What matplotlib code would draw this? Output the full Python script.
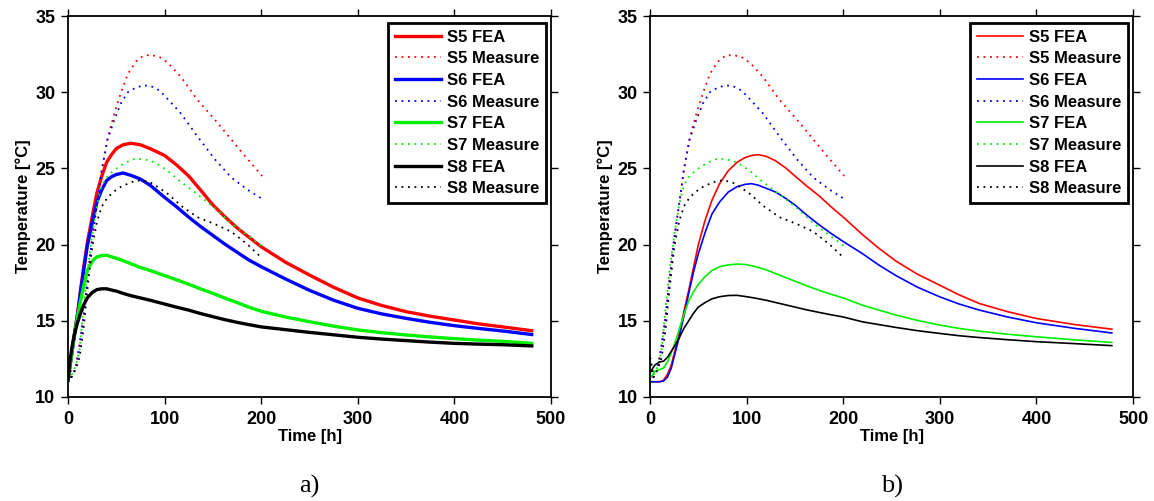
import matplotlib
matplotlib.use('Agg')
import matplotlib.pyplot as plt

# measured data (same sensors for both panels)
t_meas = [0, 3.5, 8, 12, 16, 20, 25, 30, 35, 41, 48, 55, 62, 70, 78, 86, 95, 104, 117, 134, 152, 169, 186, 201]
s5_meas = [12.6, 11.3, 11.9, 13.4, 15.2, 17.6, 20.4, 22.6, 24.9, 27.0, 28.6, 30.0, 31.2, 32.0, 32.4, 32.45,
           32.3, 31.9, 31.0, 29.5, 28.2, 26.9, 25.6, 24.5]
s6_meas = [12.6, 11.3, 11.9, 13.4, 15.2, 17.6, 20.4, 22.6, 24.9, 26.9, 28.2, 29.3, 30.0, 30.3, 30.45, 30.4,
           30.1, 29.5, 28.6, 27.1, 25.6, 24.4, 23.6, 23.0]
s7_meas = [12.6, 11.4, 12.0, 13.1, 15.8, 18.2, 20.6, 22.6, 23.9, 24.5, 24.9, 25.2, 25.45, 25.65, 25.6, 25.5,
           25.2, 24.8, 24.1, 23.3, 22.4, 21.4, 20.6, 19.9]
s8_meas = [12.6, 11.3, 11.8, 12.6, 14.4, 17.0, 19.8, 21.5, 22.5, 23.1, 23.5, 23.8, 24.0, 24.2, 24.2, 24.05,
           23.7, 23.3, 22.55, 21.8, 21.35, 20.85, 20.0, 19.1]

# FEA, panel a)
t_a = [0, 2, 4, 6, 8, 10, 13, 16, 20, 25, 30, 35, 40, 45, 50, 57, 65, 75, 85, 100, 112, 125, 137, 150,
       162, 175, 187, 200, 225, 250, 275, 300, 325, 350, 375, 400, 425, 450, 480]
s5_fea_a = [11.1, 12.0, 12.9, 13.8, 14.7, 15.5, 17.0, 18.4, 20.1, 21.8, 23.4, 24.5, 25.4, 25.9, 26.3, 26.55,
            26.65, 26.55, 26.3, 25.85, 25.25, 24.5, 23.6, 22.6, 21.85, 21.1, 20.5, 19.86, 18.85, 18.0, 17.2,
            16.5, 16.0, 15.6, 15.3, 15.05, 14.8, 14.6, 14.35]
s6_fea_a = [11.1, 12.0, 12.9, 13.8, 14.6, 15.4, 16.9, 18.2, 19.9, 21.4, 22.8, 23.6, 24.2, 24.45, 24.6, 24.7,
            24.55, 24.3, 23.9, 23.1, 22.5, 21.8, 21.2, 20.6, 20.05, 19.5, 19.0, 18.55, 17.75, 17.0, 16.35,
            15.82, 15.45, 15.16, 14.9, 14.68, 14.5, 14.33, 14.1]
s7_fea_a = [11.1, 12.0, 12.9, 13.8, 14.6, 15.3, 16.3, 17.2, 18.3, 18.9, 19.2, 19.28, 19.3, 19.2, 19.1, 18.95,
            18.75, 18.5, 18.3, 17.97, 17.7, 17.4, 17.1, 16.8, 16.5, 16.2, 15.9, 15.63, 15.25, 14.94, 14.65,
            14.4, 14.22, 14.07, 13.94, 13.83, 13.73, 13.65, 13.52]
s8_fea_a = [11.1, 12.3, 13.2, 13.9, 14.45, 14.9, 15.5, 16.0, 16.5, 16.85, 17.05, 17.1, 17.1, 17.02, 16.95,
            16.8, 16.65, 16.5, 16.35, 16.1, 15.9, 15.7, 15.48, 15.27, 15.08, 14.9, 14.75, 14.6, 14.42, 14.24,
            14.08, 13.92, 13.8, 13.7, 13.6, 13.52, 13.47, 13.43, 13.35]

# FEA, panel b)
t_b = [0, 5, 10, 14, 18, 22, 26, 30, 35, 40, 45, 50, 57, 64, 72, 81, 90, 98, 105, 112, 120, 130, 140, 150,
       162, 175, 187, 200, 220, 237, 255, 277, 300, 320, 341, 370, 400, 440, 478]
s5_fea_b = [11.0, 11.0, 11.0, 11.1, 11.5, 12.1, 13.1, 14.1, 15.6, 17.0, 18.5, 20.0, 21.6, 22.9, 24.0, 24.85,
            25.4, 25.7, 25.85, 25.9, 25.8, 25.5, 25.05, 24.5, 23.85, 23.2, 22.5, 21.8, 20.65, 19.75, 18.9,
            18.05, 17.33, 16.7, 16.13, 15.6, 15.15, 14.75, 14.45]
s6_fea_b = [11.0, 11.0, 11.0, 11.05, 11.3, 11.9, 12.9, 13.9, 15.3, 16.8, 18.2, 19.4, 20.8, 22.0, 22.8, 23.45,
            23.8, 23.95, 24.0, 23.9, 23.7, 23.45, 23.05, 22.6, 21.95, 21.3, 20.75, 20.2, 19.4, 18.65, 17.95,
            17.2, 16.57, 16.1, 15.7, 15.25, 14.87, 14.5, 14.2]
s7_fea_b = [11.2, 11.7, 11.8, 11.9, 12.3, 12.9, 13.6, 14.4, 15.4, 16.3, 16.9, 17.4, 17.9, 18.3, 18.55, 18.67,
            18.72, 18.7, 18.62, 18.5, 18.35, 18.1, 17.85, 17.6, 17.3, 17.0, 16.75, 16.5, 16.02, 15.7, 15.37,
            15.02, 14.72, 14.5, 14.32, 14.12, 13.95, 13.75, 13.58]
s8_fea_b = [11.6, 12.1, 12.3, 12.35, 12.6, 13.0, 13.4, 13.85, 14.5, 15.0, 15.5, 15.9, 16.2, 16.44, 16.58,
            16.66, 16.67, 16.6, 16.53, 16.45, 16.35, 16.2, 16.05, 15.9, 15.72, 15.55, 15.4, 15.25, 14.93,
            14.75, 14.56, 14.35, 14.17, 14.02, 13.9, 13.76, 13.63, 13.5, 13.37]

sensors = ['S5', 'S6', 'S7', 'S8']
colors = ['red', 'blue', '#00f000', 'black']
measures = [s5_meas, s6_meas, s7_meas, s8_meas]

plt.rcParams['font.family'] = ['Liberation Sans', 'DejaVu Sans']
plt.rcParams['font.weight'] = 'bold'

fig = plt.figure(figsize=(11.54, 5.01), dpi=100)
ax_a = fig.add_axes([0.0589, 0.2076, 0.4186, 0.7604])
ax_b = fig.add_axes([0.5633, 0.2076, 0.4186, 0.7604])

panels = [
    (ax_a, t_a, [s5_fea_a, s6_fea_a, s7_fea_a, s8_fea_a], 2.4, 'a)'),
    (ax_b, t_b, [s5_fea_b, s6_fea_b, s7_fea_b, s8_fea_b], 1.2, 'b)'),
]

for ax, t_fea, feas, lw, tag in panels:
    for name, c, fea, meas in zip(sensors, colors, feas, measures):
        ax.plot(t_fea, fea, color=c, lw=lw, label=name + ' FEA')
        ax.plot(t_meas, meas, color=c, lw=1.3, linestyle=(0, (1, 2.6)), label=name + ' Measure')
    ax.set_xlim(0, 500)
    ax.set_ylim(10, 35)
    ax.set_xticks(range(0, 501, 100))
    ax.set_yticks(range(10, 36, 5))
    ax.tick_params(direction='out', length=5, width=1, labelsize=13,
                   top=True, right=True)
    ax.tick_params(axis='x', pad=5)
    ax.tick_params(axis='y', pad=4)
    for sp in ax.spines.values():
        sp.set_linewidth(1.3)
    ax.set_xlabel('Time [h]', fontsize=12, fontweight='bold', labelpad=1)
    ax.set_ylabel('Temperature [°C]', fontsize=12, fontweight='bold', labelpad=3)
    leg = ax.legend(loc='upper right', bbox_to_anchor=(0.99, 0.982), borderaxespad=0,
                    fontsize=12, handlelength=2.8, handletextpad=0.35, labelspacing=0.4,
                    fancybox=False, framealpha=1, edgecolor='black', borderpad=0.4)
    leg.get_frame().set_linewidth(2)
    ax.text(0.5, -0.236, tag, transform=ax.transAxes, ha='center', va='center',
            fontsize=19, fontweight='normal', family='Liberation Serif')

fig.savefig('out.png', dpi=100)
